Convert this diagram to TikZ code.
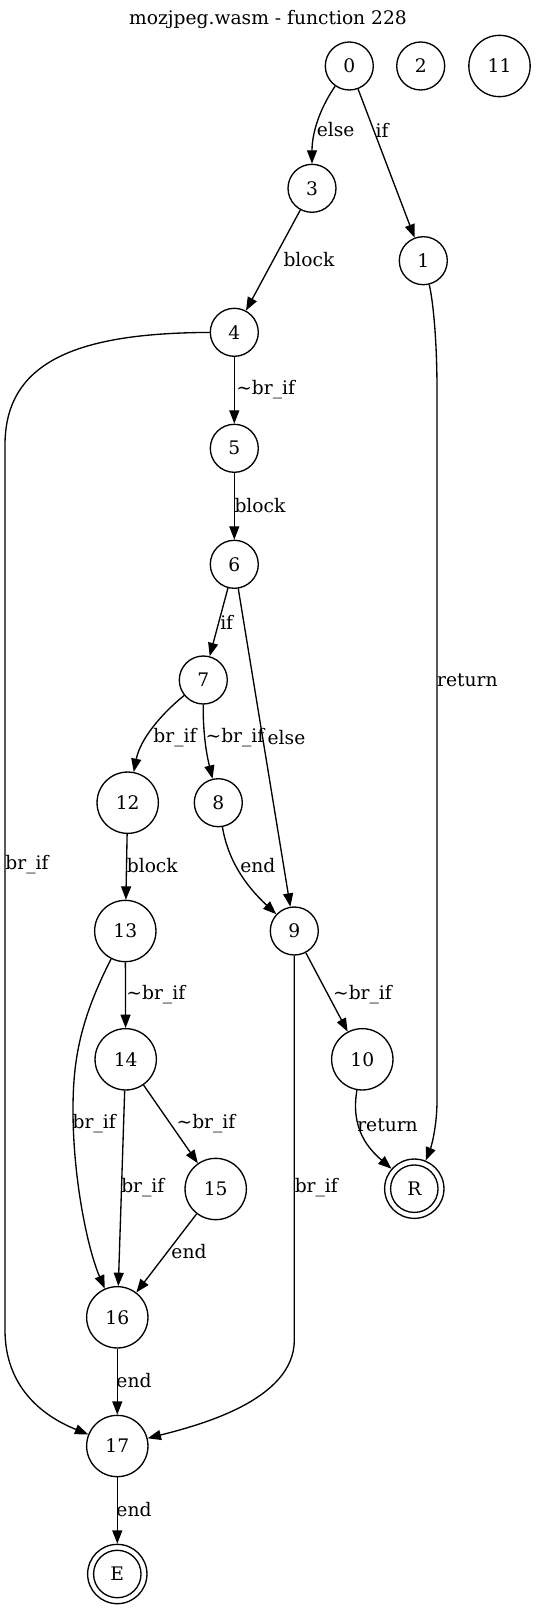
\documentclass[tikz,border=0pt]{standalone}
\usepackage{fontspec}
\setmainfont{DejaVu Serif}
\usetikzlibrary{arrows.meta}
\begin{document}
\begin{tikzpicture}[x=0.75pt,y=-0.75pt,
  every node/.style={font=\fontsize{14pt}{16pt}\selectfont},
  st/.style={circle,draw,line width=1pt,minimum size=36pt,inner sep=0pt},
  bg/.style={st,minimum size=46pt},
  fin/.style={st,minimum size=44.5pt},
  lab/.style={inner sep=0pt},
  conn/.style={line width=1pt,-{Triangle[length=10pt,width=7.5pt]}}]
\useasboundingbox (0,0) rectangle (536,1609);
\newcommand{\tl}{\textasciitilde}
% title
\node[lab] (title) at (268,19) {mozjpeg.wasm - function 228};
% nodes
\node[st] (n0) at (349.3,66) {0};
\node[st] (n2) at (420.7,66) {2};
\node[bg] (n11) at (499.5,66) {11};
\node[st] (n3) at (312,188.3) {3};
\node[st] (n1) at (423.3,260.7) {1};
\node[st] (n4) at (234.3,332.3) {4};
\node[st] (n5) at (234.3,448.3) {5};
\node[st] (n6) at (234.3,564.3) {6};
\node[st] (n7) at (203.3,680) {7};
\node[bg] (n12) at (127.7,802.7) {12};
\node[st] (n8) at (218.3,802.7) {8};
\node[bg] (n13) at (125.3,931) {13};
\node[st] (n9) at (294.3,931) {9};
\node[bg] (n14) at (125.7,1059.3) {14};
\node[bg] (n10) at (362.3,1059.3) {10};
\node[bg] (n15) at (215.7,1189) {15};
\node[fin] (R) at (414.3,1188.7) {R};
\draw[line width=1pt] (R.center) circle[radius=17.8pt];
\node[bg] (n16) at (117.3,1317.3) {16};
\node[bg] (n17) at (117.3,1446) {17};
\node[fin] (E) at (117.3,1574) {E};
\draw[line width=1pt] (E.center) circle[radius=17.8pt];
% edges
\draw[conn] (n0) .. controls (322,105) and (312,130) .. (n3);
\draw[conn] (n0) -- (n1);
\draw[conn] (n3) -- (n4);
\draw[conn] (n1) .. controls (433,300) and (437,340) .. (437,390) -- (437,1100) .. controls (437,1130) and (430,1150) .. (R);
\draw[conn] (n4) .. controls (80,333) and (5,360) .. (5,445) -- (5,1330) .. controls (5,1385) and (40,1415) .. (n17);
\draw[conn] (n4) -- (n5);
\draw[conn] (n5) -- (n6);
\draw[conn] (n6) -- (n7);
\draw[conn] (n6) -- (n9);
\draw[conn] (n7) .. controls (160,715) and (140,740) .. (n12);
\draw[conn] (n7) .. controls (203,740) and (208,760) .. (n8);
\draw[conn] (n8) .. controls (228,860) and (245,885) .. (n9);
\draw[conn] (n12) -- (n13);
\draw[conn] (n13) -- (n14);
\draw[conn] (n13) .. controls (80,1020) and (73,1060) .. (73,1110) .. controls (73,1180) and (88,1250) .. (n16);
\draw[conn] (n14) -- (n16);
\draw[conn] (n14) -- (n15);
\draw[conn] (n15) -- (n16);
\draw[conn] (n9) -- (n10);
\draw[conn] (n9) -- (294.3,1340) .. controls (294.3,1400) and (200,1425) .. (n17);
\draw[conn] (n10) .. controls (350,1130) and (370,1150) .. (R);
\draw[conn] (n16) -- (n17);
\draw[conn] (n17) -- (E);
% labels
\node[lab] (l03) at (335.7,130) {else};
\node[lab] (l01) at (382,130) {if};
\node[lab] (l34) at (309,260) {block};
\node[lab] (l1R) at (467.3,680.7) {return};
\node[lab] (l417) at (27,865) {br\_if};
\node[lab] (l45) at (265.7,390) {\tl br\_if};
\node[lab] (l56) at (260,506) {block};
\node[lab] (l67) at (226.7,622) {if};
\node[lab] (l712) at (175,738) {br\_if};
\node[lab] (l78) at (235,738) {\tl br\_if};
\node[lab] (l69) at (286.5,738) {else};
\node[lab] (l1213) at (152.3,866) {block};
\node[lab] (l89) at (257.8,866) {end};
\node[lab] (l1314) at (155.8,995) {\tl br\_if};
\node[lab] (l910) at (362.5,995) {\tl br\_if};
\node[lab] (l1316) at (94.2,1124) {br\_if};
\node[lab] (l1415) at (206,1124) {\tl br\_if};
\node[lab] (l10R) at (387.5,1125) {return};
\node[lab] (l1416) at (142.8,1188) {br\_if};
\node[lab] (l917) at (316.3,1188) {br\_if};
\node[lab] (l1516) at (189,1252) {end};
\node[lab] (l1617) at (134,1381) {end};
\node[lab] (l17E) at (134,1510) {end};
\end{tikzpicture}
\end{document}
